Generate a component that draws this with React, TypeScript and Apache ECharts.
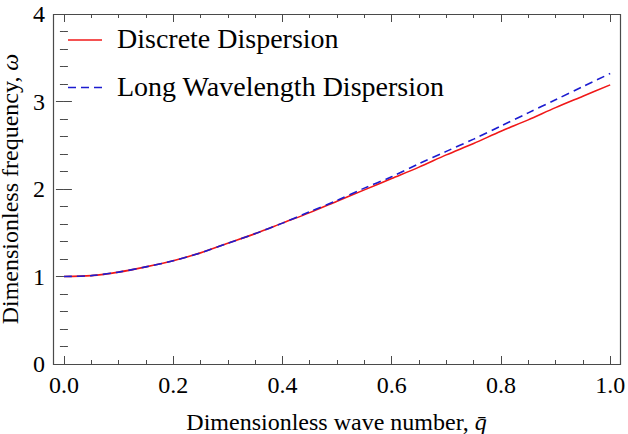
import React, { useEffect, useRef } from "react";
import * as echarts from "echarts";

// Dimensionless wave number q̄ (read every 0.05)
const qValues = [0, 0.05, 0.1, 0.15, 0.2, 0.25, 0.3, 0.35, 0.4, 0.45, 0.5, 0.55, 0.6, 0.65, 0.7, 0.75, 0.8, 0.85, 0.9, 0.95, 1.0];
// Discrete dispersion (red, solid)
const discreteOmega = [1.0, 1.01, 1.05, 1.11, 1.18, 1.27, 1.38, 1.49, 1.61, 1.73, 1.86, 1.99, 2.12, 2.25, 2.39, 2.52, 2.66, 2.79, 2.93, 3.06, 3.19];
// Long wavelength dispersion (blue, dashed)
const longWaveOmega = [1.0, 1.01, 1.05, 1.11, 1.18, 1.27, 1.38, 1.49, 1.61, 1.74, 1.87, 2.01, 2.14, 2.29, 2.43, 2.57, 2.72, 2.87, 3.02, 3.17, 3.32];
const seriesNames = ["Discrete Dispersion", "Long Wavelength Dispersion"];
const xMajorTicks = [0, 0.2, 0.4, 0.6, 0.8, 1.0];
const xMinorTicks = [0.05, 0.1, 0.15, 0.25, 0.3, 0.35, 0.45, 0.5, 0.55, 0.65, 0.7, 0.75, 0.85, 0.9, 0.95];
const xTitle = "Dimensionless wave number, ";
const yTitle = "Dimensionless frequency, ";

const FONT = "'Liberation Serif', 'Times New Roman', Times, 'DejaVu Serif', serif";
const FRAME = "#4a4a4a";
const RED = "#f01818";
const BLUE = "#1c1cd0";

export default function App() {
  const ref = useRef<HTMLDivElement>(null);
  useEffect(() => {
    if (!ref.current) return;
    const chart = echarts.init(ref.current, undefined, { renderer: "svg" });
    const base = {
      type: "value",
      min: -0.02,
      max: 1.018,
      axisLine: { show: false },
      splitLine: { show: false },
      minorTick: { show: false },
    };
    const xAxisFor = (position: string, ticks: number[], len: number, labels: boolean) => ({
      ...base,
      position,
      axisTick: { show: true, inside: true, length: len, customValues: ticks, lineStyle: { color: FRAME, width: 1 } },
      axisLabel: labels
        ? { show: true, customValues: ticks, color: "#000", fontFamily: FONT, fontSize: 24, margin: 9, formatter: (v: number) => v.toFixed(1) }
        : { show: false },
    });
    const yAxisFor = (position: string, labels: boolean) => ({
      type: "value", min: 0, max: 4, interval: 1, position,
      axisLine: { show: false },
      splitLine: { show: false },
      axisTick: { show: true, inside: true, length: 8, lineStyle: { color: FRAME, width: 1 } },
      minorTick: { show: true, splitNumber: 5, length: 4, lineStyle: { color: FRAME, width: 1 } },
      axisLabel: labels ? { show: true, color: "#000", fontFamily: FONT, fontSize: 24, margin: 8 } : { show: false },
    });
    const richTitle = {
      a: { fontFamily: FONT, fontSize: 24, color: "#000" },
      b: { fontFamily: FONT, fontSize: 24, color: "#000", fontStyle: "italic" },
    };
    chart.setOption({
      animation: false,
      backgroundColor: "#fff",
      textStyle: { fontFamily: FONT },
      grid: { left: 53, top: 14, width: 567, height: 350, containLabel: false, outerBoundsMode: "none" },
      xAxis: [
        {
          ...xAxisFor("bottom", xMajorTicks, 8, true),
          name: `{a|${xTitle}}{b|q\u0304}`,
          nameLocation: "middle",
          nameGap: 46,
          nameTextStyle: { fontFamily: FONT, rich: richTitle },
        },
        xAxisFor("bottom", xMinorTicks, 4, false),
        xAxisFor("top", xMajorTicks, 8, false),
        xAxisFor("top", xMinorTicks, 4, false),
      ],
      yAxis: [
        {
          ...yAxisFor("left", true),
          name: `{a|${yTitle}}{b|ω}`,
          nameLocation: "middle",
          nameGap: 17,
          nameTextStyle: { fontFamily: FONT, rich: richTitle },
        },
        yAxisFor("right", false),
      ],
      series: [
        {
          name: seriesNames[0], type: "line", xAxisIndex: 0, yAxisIndex: 0,
          data: qValues.map((q, i) => [q, discreteOmega[i]]),
          showSymbol: false, smooth: 0.3,
          lineStyle: { color: RED, width: 1.6 },
          z: 2,
        },
        {
          name: seriesNames[1], type: "line", xAxisIndex: 0, yAxisIndex: 0,
          data: qValues.map((q, i) => [q, longWaveOmega[i]]),
          showSymbol: false, smooth: 0.3,
          lineStyle: { color: BLUE, width: 1.6, type: [8, 5] },
          z: 3,
        },
      ],
      graphic: [
        {
          type: "rect", silent: true, z: 10,
          shape: { x: 53.5, y: 14.5, width: 567, height: 350 },
          style: { fill: "none", stroke: FRAME, lineWidth: 1.2 },
        },
        {
          type: "line", shape: { x1: 68, y1: 40, x2: 102, y2: 40 },
          style: { stroke: RED, lineWidth: 1.6 },
        },
        {
          type: "text", x: 117, y: 38.5,
          style: { text: seriesNames[0], font: `28px ${FONT}`, fill: "#000", verticalAlign: "middle" },
        },
        {
          type: "line", shape: { x1: 68, y1: 87.5, x2: 102, y2: 87.5 },
          style: { stroke: BLUE, lineWidth: 1.6, lineDash: [8, 5] },
        },
        {
          type: "text", x: 117, y: 86,
          style: { text: seriesNames[1], font: `28px ${FONT}`, fill: "#000", verticalAlign: "middle" },
        },
      ],
    });
    return () => chart.dispose();
  }, []);
  return <div ref={ref} style={{ width: 628, height: 434, position: "fixed", left: 0, top: 0 }} />;
}
